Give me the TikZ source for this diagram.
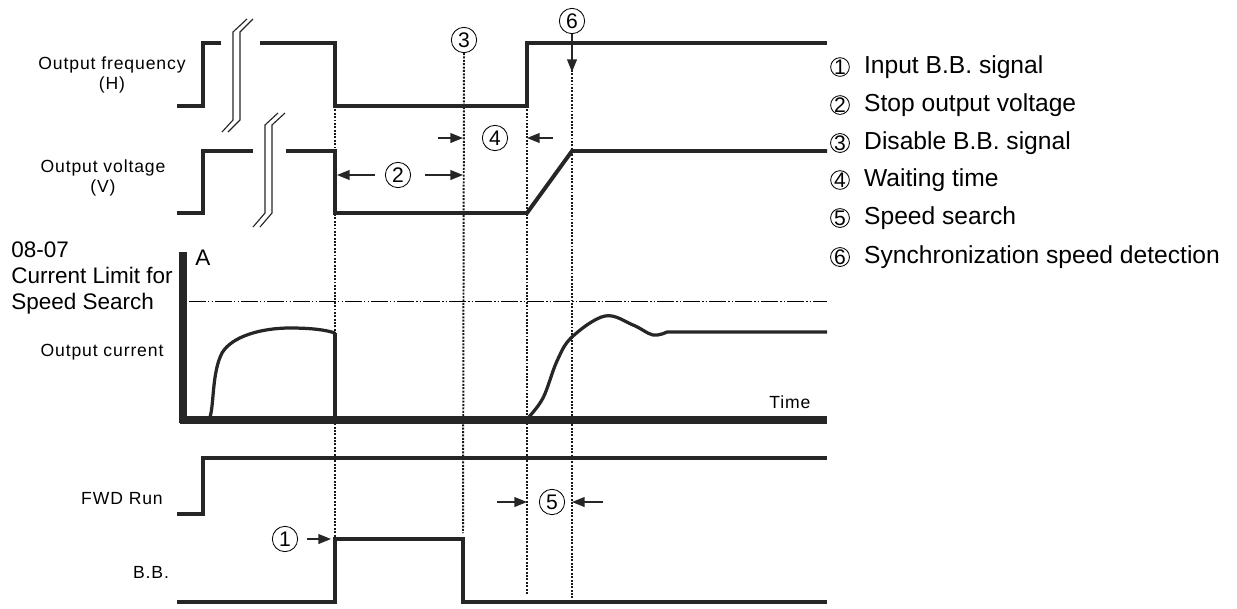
\documentclass[tikz,border=0pt]{standalone}
\usepackage{fontspec}
\setmainfont{Liberation Sans}
\newfontfamily\spacedfont[LetterSpace=5]{Liberation Sans}
\usetikzlibrary{arrows.meta,positioning,calc}

\begin{document}
\begin{tikzpicture}[
    x=0.025cm, y=-0.025cm,
    wave/.style={line width=2.8pt, black!85},
    axisline/.style={line width=5pt, black!85},
    curve/.style={line width=2.3pt, black!85},
    guide/.style={densely dotted, line width=1.4pt, black!90},
    limit/.style={dash pattern=on 12pt off 1.5pt on 1pt off 1.5pt on 1pt off 1.5pt, line width=0.6pt},
    brk/.style={line width=0.8pt, black!85},
    num/.style={circle, draw, line width=0.6pt, inner sep=0pt, minimum size=18pt, font=\fontsize{15}{15}\selectfont},
    lnum/.style={circle, draw, line width=0.6pt, inner sep=0pt, minimum size=13pt, font=\fontsize{15}{15}\selectfont},
    sig/.style={font=\spacedfont\fontsize{12.5}{14.5}\selectfont, align=center, inner sep=0pt},
    big/.style={font=\fontsize{16}{18.5}\selectfont, inner sep=0pt},
    leg/.style={font=\fontsize{17.5}{20}\selectfont, inner sep=0pt},
    arr/.style={-{Triangle[length=9pt,width=7pt]}, line width=1pt, black!85}
]
\useasboundingbox (0,0) rectangle (1237,608);

% Hilfslinien (punktiert)
\node[num] (n3) at (464,40) {3};
\node[num] (n6) at (572,21) {6};
\coordinate (g1t) at (335,106);
\coordinate (g1b) at (335,539);
\coordinate (g3b) at (463,533);
\coordinate (g4t) at (527,106);
\coordinate (g4b) at (527,595);
\coordinate (g6t) at (572,70);
\coordinate (g6b) at (572,598);
\draw[guide] (g1t) -- (g1b);
\draw[guide] (n3.south) -- (g3b);
\draw[guide] (g4t) -- (g4b);
\draw[guide] (g6t) -- (g6b);

% Ausgangsfrequenz
\draw[wave] (177,106) -- (203,106) -- (203,43) -- (221,43);
\draw[wave] (260,43) -- (335,43) -- (335,106) -- (527,106) -- (527,43) -- (827,43);
\draw[brk] (222,132) -- (233,120) -- (233,32) -- (247,19);
\draw[brk] (228,132) -- (240,120) -- (240,32) -- (253,19);

% Ausgangsspannung
\draw[wave] (177,213) -- (203,213) -- (203,151) -- (253,151);
\draw[wave] (286,151) -- (335,151) -- (335,213) -- (527,213) -- (572,151) -- (827,151);
\draw[brk] (253,227) -- (265,213) -- (265,125) -- (278,113);
\draw[brk] (260,227) -- (272,213) -- (272,125) -- (285,113);

% Ausgangsstrom
\draw[axisline] (183,252) -- (183,423);
\draw[axisline] (180,420) -- (827,420);
\draw[limit] (189,301) -- (827,301);
\draw[curve] (210,417) .. controls (214,405) and (212,372) .. (222,353)
    .. controls (232,336) and (262,328) .. (290,328)
    .. controls (312,328) and (326,330) .. (335,333);
\draw[wave] (335,333) -- (335,420);
\draw[curve] plot[smooth, tension=0.6] coordinates {(527,419) (543,398) (557,361) (572,337) (605,316) (633,325) (653,335) (667,332)} -- (827,332);
\node[big] (lblA) at (203,258) {A};
\node[sig] (lblTime) at (790,402) {Time};

% FWD Run und B.B.
\draw[wave] (177,514) -- (203,514) -- (203,458) -- (827,458);
\draw[wave] (177,602) -- (335,602) -- (335,539) -- (463,539) -- (463,602) -- (827,602);

% Pfeile mit Nummern
\coordinate (p6) at (572,72);
\draw[arr] (n6.south) -- (p6);

\node[num] (n4) at (495,138) {4};
\coordinate (a4l) at (438,138); \coordinate (a4r) at (553,138);
\draw[arr] (a4l) -- (463,138);
\draw[arr] (a4r) -- (527,138);

\node[num] (n2) at (398,175) {2};
\coordinate (a2l) at (375,175); \coordinate (a2r) at (425,175);
\draw[arr] (a2l) -- (337,175);
\draw[arr] (a2r) -- (463,175);

\node[num] (n1) at (285,539) {1};
\coordinate (a1) at (331,539);
\draw[arr] ([xshift=6pt]n1.east) -- (a1);

\node[num] (n5) at (552,502) {5};
\coordinate (a5l) at (497,502); \coordinate (a5r) at (603,502);
\draw[arr] (a5l) -- (527,502);
\draw[arr] (a5r) -- (572,502);

% Beschriftungen links
\node[sig] (lblF) at (112,75) {Output frequency\\(H)};
\node[sig] (lblV) at (103,178) {Output voltage\\(V)};
\node[big, align=left, anchor=north west] (lblI) at (11,241) {08-07\\Current Limit for\\Speed Search};
\node[sig] (lblC) at (102,352) {Output current};
\node[sig] (lblR) at (122,499) {FWD Run};
\node[sig] (lblB) at (151,572) {B.B.};

% Legende
\foreach \i/\y/\txt in {1/67/Input B.B. signal, 2/105/Stop output voltage, 3/143/Disable B.B. signal,
    4/180/Waiting time, 5/218/Speed search, 6/257/Synchronization speed detection} {
    \node[lnum] (l\i) at (840,\y) {\i};
    \node[leg, right=10pt of l\i] (t\i) {\txt};
}

\end{tikzpicture}
\end{document}
